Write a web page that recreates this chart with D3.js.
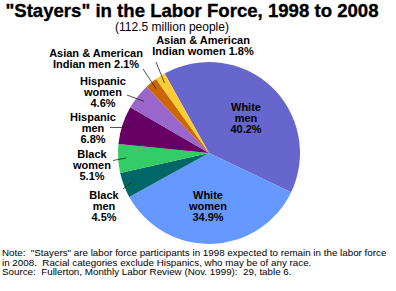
<!DOCTYPE html>
<html>
<head>
<meta charset="utf-8">
<script src="https://cdn.jsdelivr.net/npm/d3@7"></script>
<style>
  body { margin: 0; background: #fff; }
  svg { display: block; font-family: "Liberation Sans", Arial, Helvetica, sans-serif; }
  .lbl { font-weight: bold; font-size: 11px; fill: #000; }
  .note { font-size: 9.8px; fill: #000; white-space: pre; }
</style>
</head>
<body>
<svg id="chart" width="396" height="291"></svg>
<script>
// slices, clockwise from White men
const groups = ['White men', 'White women', 'Black men', 'Black women',
  'Hispanic men', 'Hispanic women', 'Asian & American Indian men', 'Asian & American Indian women'];
const shares = [40.2, 34.9, 4.5, 5.1, 6.8, 4.6, 2.1, 1.8];
const colors = ['#6666cc', '#6699ff', '#006666', '#33cc66', '#660066', '#9966cc', '#cc6600', '#ffcc33'];
const labelLines = [
  ['White', 'men', '40.2%'],
  ['White', 'women', '34.9%'],
  ['Black', 'men', '4.5%'],
  ['Black', 'women', '5.1%'],
  ['Hispanic', 'men', '6.8%'],
  ['Hispanic', 'women', '4.6%'],
  ['Asian & American', 'Indian men 2.1%'],
  ['Asian & American', 'Indian women 1.8%']
];
const title = '"Stayers" in the Labor Force, 1998 to 2008';
const subtitle = '(112.5 million people)';
const notes = [
  'Note:  "Stayers" are labor force participants in 1998 expected to remain in the labor force',
  'in 2008.  Racial categories exclude Hispanics, who may be of any race.',
  'Source:  Fullerton, Monthly Labor Review (Nov. 1999):  29, table 6.'
];

// label placement (x, y of first baseline, leader outer end; null = inside slice)
const layout = [
  { x: 246, y: 110.5, lead: null },
  { x: 208, y: 198.5, lead: null },
  { x: 104, y: 199, lead: [123, 189] },
  { x: 92, y: 158, lead: [113, 160.5] },
  { x: 93, y: 120.5, lead: [110, 127.5] },
  { x: 103, y: 85, lead: [127, 95] },
  { x: 96, y: 57, lead: [143, 69] },
  { x: 203, y: 44, lead: [156, 62] }
];

const svg = d3.select('#chart');
const cx = 209, cy = 153, r = 91;
const lineH = 11;

svg.append('text')
  .attr('x', 192).attr('y', 16.5)
  .attr('text-anchor', 'middle')
  .style('font-size', '18.6px').style('font-weight', 'bold')
  .attr('stroke', '#000').attr('stroke-width', 0.35)
  .text(title);

svg.append('text')
  .attr('x', 172).attr('y', 30.5)
  .attr('text-anchor', 'middle')
  .style('font-size', '12px')
  .text(subtitle);

const start = -29.2 * Math.PI / 180;
const pie = d3.pie().sort(null).startAngle(start).endAngle(start + 2 * Math.PI);
const arcs = pie(shares);
const arc = d3.arc().innerRadius(0).outerRadius(r);
const leadArc = d3.arc().innerRadius(83).outerRadius(83);

const g = svg.append('g').attr('transform', `translate(${cx},${cy})`);
g.selectAll('path')
  .data(arcs)
  .join('path')
  .attr('d', arc)
  .attr('fill', (d, i) => colors[i]);

// leader lines
arcs.forEach((d, i) => {
  const L = layout[i];
  if (!L.lead) return;
  const [px, py] = leadArc.centroid(d);
  svg.append('line')
    .attr('x1', L.lead[0]).attr('y1', L.lead[1])
    .attr('x2', cx + px).attr('y2', cy + py)
    .attr('stroke', '#222').attr('stroke-width', 0.8);
});

// labels
labelLines.forEach((lines, i) => {
  const L = layout[i];
  const t = svg.append('text').attr('class', 'lbl').attr('text-anchor', 'middle');
  lines.forEach((s, k) => {
    t.append('tspan').attr('x', L.x).attr('y', L.y + k * lineH).text(s);
  });
});

// footnote
svg.selectAll('text.note')
  .data(notes)
  .join('text')
  .attr('class', 'note')
  .attr('x', 2)
  .attr('y', (d, i) => 256 + i * 9.5)
  .text(d => d);
</script>
</body>
</html>
